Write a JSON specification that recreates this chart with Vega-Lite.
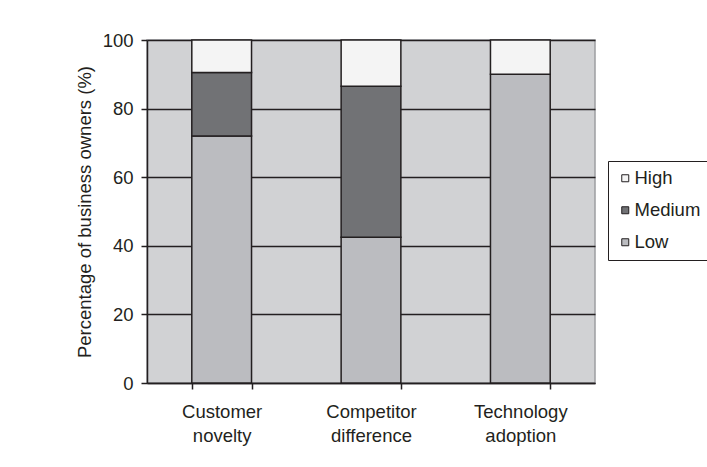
{
  "$schema": "https://vega.github.io/schema/vega-lite/v6.json",
  "width": 448,
  "height": 343,
  "autosize": {"type": "none"},
  "padding": {"left": 147, "top": 40, "right": 112, "bottom": 84},
  "background": "white",
  "config": {
    "font": "Liberation Sans",
    "view": {"fill": "#d1d2d4", "stroke": "#9d9ea1", "strokeWidth": 1.5}
  },
  "data": {
    "values": [
      {"category": "Customer novelty", "level": "Low", "idx": 1, "value": 72},
      {"category": "Customer novelty", "level": "Medium", "idx": 2, "value": 18.5},
      {"category": "Customer novelty", "level": "High", "idx": 3, "value": 9.5},
      {"category": "Competitor difference", "level": "Low", "idx": 1, "value": 42.5},
      {"category": "Competitor difference", "level": "Medium", "idx": 2, "value": 44},
      {"category": "Competitor difference", "level": "High", "idx": 3, "value": 13.5},
      {"category": "Technology adoption", "level": "Low", "idx": 1, "value": 90},
      {"category": "Technology adoption", "level": "Medium", "idx": 2, "value": 0},
      {"category": "Technology adoption", "level": "High", "idx": 3, "value": 10}
    ]
  },
  "mark": {"type": "bar", "stroke": "#231f20", "strokeWidth": 1.5},
  "encoding": {
    "x": {
      "field": "category",
      "type": "nominal",
      "sort": null,
      "scale": {"paddingInner": 0.6, "paddingOuter": 0.3},
      "axis": {
        "title": null,
        "labelAngle": 0,
        "labelExpr": "split(datum.label, ' ')",
        "labelFontSize": 18.5,
        "labelColor": "#231f20",
        "labelLineHeight": 24,
        "labelPadding": 13,
        "tickBand": "extent",
        "tickSize": 6,
        "tickColor": "#231f20",
        "tickWidth": 1.5,
        "domainColor": "#231f20",
        "domainWidth": 1.5
      }
    },
    "y": {
      "field": "value",
      "type": "quantitative",
      "stack": "zero",
      "scale": {"domain": [0, 100], "nice": false},
      "axis": {
        "title": "Percentage of business owners (%)",
        "titleFontSize": 18.5,
        "titleFontWeight": "normal",
        "titleColor": "#231f20",
        "titlePadding": 8,
        "values": [0, 20, 40, 60, 80, 100],
        "labelFontSize": 18.5,
        "labelColor": "#231f20",
        "labelPadding": 8,
        "tickSize": 6,
        "tickColor": "#231f20",
        "tickWidth": 1.5,
        "grid": true,
        "gridColor": "#231f20",
        "gridWidth": 1.5,
        "gridOpacity": 1,
        "domainColor": "#231f20",
        "domainWidth": 1.5
      }
    },
    "color": {
      "field": "level",
      "type": "nominal",
      "scale": {"domain": ["High", "Medium", "Low"], "range": ["#f4f4f4", "#717275", "#bbbcc0"]},
      "legend": {
        "title": null,
        "orient": "none",
        "legendX": 461,
        "legendY": 121,
        "strokeColor": "#231f20",
        "padding": 8,
        "symbolType": "square",
        "symbolSize": 49,
        "symbolStrokeColor": "#231f20",
        "symbolStrokeWidth": 1,
        "labelFontSize": 18.5,
        "labelColor": "#231f20",
        "rowPadding": 13,
        "labelOffset": 0
      }
    },
    "order": {"field": "idx", "type": "quantitative"}
  }
}
